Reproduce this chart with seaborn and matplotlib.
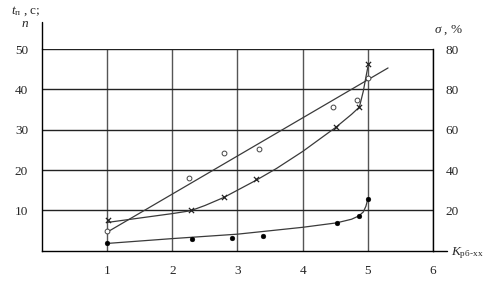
import matplotlib
matplotlib.use("Agg")
import matplotlib.pyplot as plt
import seaborn as sns
import pandas as pd

# ---- data ----
# series 1: filled dots (t_п)
dots_x = [1.0, 2.30, 2.91, 3.39, 4.52, 4.86, 5.0]
dots_y = [1.9, 2.9, 3.15, 3.7, 6.9, 8.7, 12.8]
dots_curve_x = [1.0, 2.0, 3.0, 4.0, 4.52, 4.75, 4.86, 4.93, 4.97, 5.0]
dots_curve_y = [1.8, 3.0, 4.1, 5.8, 6.9, 7.8, 8.6, 9.6, 11.0, 12.8]

# series 2: x markers (n)
cross_x = [1.02, 2.28, 2.79, 3.29, 4.51, 4.87, 5.0]
cross_y = [7.6, 10.0, 13.4, 17.7, 30.6, 35.6, 46.3]
cross_curve_x = [1.0, 1.5, 2.0, 2.28, 2.5, 2.79, 3.29, 3.6, 4.0, 4.51, 4.75, 4.87, 4.93, 4.97, 5.0]
cross_curve_y = [7.0, 8.1, 9.2, 9.9, 11.2, 13.2, 17.5, 20.4, 24.6, 30.6, 33.8, 35.6, 39.5, 43.0, 45.5]

# series 3: open circles (σ)
circ_x = [1.0, 2.26, 2.80, 3.33, 4.47, 4.83, 5.0]
circ_y = [4.8, 18.0, 24.2, 25.1, 35.5, 37.4, 42.9]
circ_line_x = [1.0, 5.31]
circ_line_y = [4.6, 45.3]

x_ticks = [1, 2, 3, 4, 5, 6]
left_ticks = [10, 20, 30, 40, 50]
right_ticks = [20, 40, 60, 80, 100]
right_labels = ["20", "40", "60", "80", "80"]

# ---- figure ----
sns.set_style("white")
plt.rcParams["font.family"] = ["Liberation Serif", "DejaVu Serif"]
plt.rcParams["mathtext.fontset"] = "custom"
plt.rcParams["mathtext.rm"] = "Liberation Serif"
plt.rcParams["mathtext.it"] = "Liberation Serif:italic"

fig = plt.figure(figsize=(4.91, 2.88), dpi=100)
ax = fig.add_axes([42/491, 1-250.7/288, (433-42)/491, (250.7-49)/288])

line_kw = dict(color="#3a3a3a", linewidth=0.9, sort=False, ax=ax, legend=False)
sns.lineplot(x=dots_curve_x, y=dots_curve_y, **line_kw)
sns.lineplot(x=cross_curve_x, y=cross_curve_y, **line_kw)
sns.lineplot(x=circ_line_x, y=circ_line_y, **line_kw)

sns.scatterplot(x=dots_x, y=dots_y, ax=ax, color="black", s=12, marker="o",
                edgecolor="black", zorder=5)
sns.scatterplot(x=cross_x, y=cross_y, ax=ax, color="#222222", s=14, marker="x",
                linewidth=0.9, zorder=5)
sns.scatterplot(x=circ_x, y=circ_y, ax=ax, facecolor="white", s=12, marker="o",
                edgecolor="#444444", linewidth=0.7, zorder=5)

ax.set_xlim(0, 6)
ax.set_ylim(0, 50)
ax.set_xticks(x_ticks)
ax.set_xticklabels([str(v) for v in x_ticks])
ax.set_yticks(left_ticks)
ax.set_yticklabels([str(v) for v in left_ticks])
ax.tick_params(axis="both", length=0, labelsize=9.5)
ax.tick_params(axis="x", pad=10)
ax.tick_params(axis="y", pad=10)

for v in x_ticks:
    ax.axvline(v, color="#555555", linewidth=1.0, zorder=1)
for v in left_ticks:
    ax.axhline(v, color="#222222", linewidth=1.0, zorder=1)

for s in ["top", "right"]:
    ax.spines[s].set_visible(False)
ax.spines["left"].set_color("black")
ax.spines["bottom"].set_color("black")
ax.spines["left"].set_linewidth(1.0)
ax.spines["bottom"].set_linewidth(1.0)

# extended axis lines
ax.plot([0, 0], [1.0, 1.135], transform=ax.transAxes, color="black",
        linewidth=1.0, clip_on=False)
ax.plot([1.0, 1.036], [0, 0], transform=ax.transAxes, color="black",
        linewidth=1.0, clip_on=False)

ax2 = ax.twinx()
ax2.set_ylim(0, 100)
ax2.set_yticks(right_ticks)
ax2.set_yticklabels(right_labels)
ax2.tick_params(axis="y", length=0, labelsize=9.5, pad=9)
for s in ["top", "left", "bottom"]:
    ax2.spines[s].set_visible(False)
ax2.spines["right"].set_color("black")
ax2.spines["right"].set_linewidth(1.0)

# axis titles
fig.text(11/491, 1-11/288, r"$t_{\text{п}}$ , с;", fontsize=9.5, ha="left", va="center")
fig.text(25/491, 1-24/288, r"$n$", fontsize=9.5, ha="center", va="center")
fig.text(434/491, 1-30/288, r"$\sigma$ , %", fontsize=9.5, ha="left", va="center")
fig.text(451/491, 1-253/288, r"$K_{\text{рб-хх}}$", fontsize=9.5, ha="left", va="center")

fig.savefig("out.png", dpi=100)
